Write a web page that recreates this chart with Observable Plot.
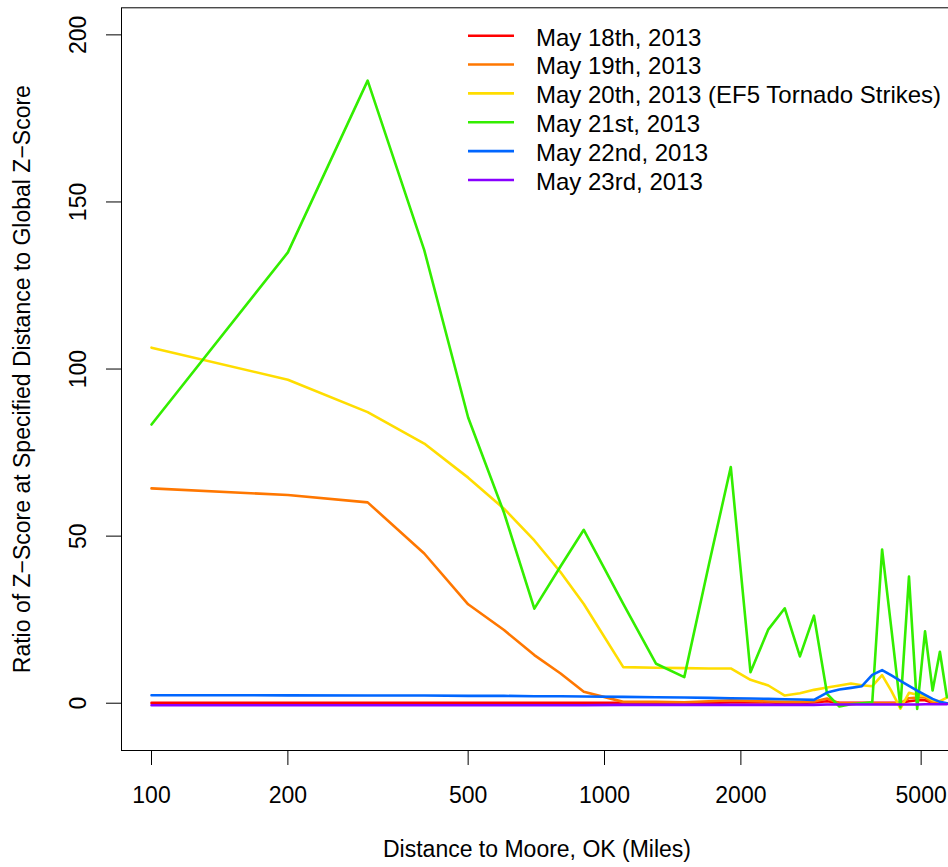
<!DOCTYPE html>
<html><head><meta charset="utf-8">
<script src="https://cdn.jsdelivr.net/npm/d3@7"></script>
<script src="https://cdn.jsdelivr.net/npm/@observablehq/plot@0.6"></script>
<style>
html,body{margin:0;padding:0;background:#fff;overflow:hidden;}
#chart{position:relative;width:948px;height:867px;overflow:hidden;}
#chart svg{max-width:none !important;display:block;}
</style></head><body><div id="chart"></div>
<script>
// Distance to Moore, OK (miles)
const distances = [100,200,300,400,500,600,700,800,900,1100,1300,1500,1700,1900,2100,2300,2500,2700,2900,3100,3300,3500,3700,3900,4100,4300,4500,4700,4900,5100,5300,5500,5700];
// Ratio of z-score per day
const may18 = [0.1,0.1,0.1,0.1,0.1,0.1,0.1,0.1,0.1, 0.1,0.1,0.1,0.1,0.2, 0.2,0.2,0.1,0.1,0.2, 0.6,0.1,0.1,0.1,0.1, 0.1,0.1,0.1, 0.6,0.9,0.9, 0.1,0,0];
const may19 = [64.3,62.3,60.1,44.8,29.6,21.9,14.4,8.9,3.4, 0.4,0.4,0.3,0.6,0.9, 0.7,0.5,0.4,0.4,0.5, 1.4,0,0,0,0, 0,0,0, 1.5,1.7,1.7, 0.2,0,0];
const may20 = [106.4,96.8,87.1,77.7,67.5,58.2,48.7,39.2,29.7, 10.8,10.6,10.5,10.4,10.4, 7.0,5.3,2.3,3.0,4.0, 4.7,5.3,5.9,5.4,5.1, 8.4,3.6,-1.6, 3.1,2.5,2.2, 0.9,0.6,1.7];
const may21 = [83.4,134.9,186.3,135.6,85.5,57,28.3,41,51.9, 29.7,11.8,7.8,41.5,70.7, 9.3,22.1,28.4,14.0,26.2, 2.8,-1.0,-0.3,0,0.3, 46,22,-1.2, 37.9,-1.7,21.5, 3.8,15.4,1.8];
const may22 = [2.4,2.35,2.3,2.3,2.2,2.2,2.1,2.1,2.0, 1.9,1.8,1.7,1.6,1.5, 1.4,1.3,1.2,1.1,1.0, 3.2,4.1,4.6,5.1,8.5, 9.9,8.3,6.7, 5.2,3.8,2.5, 1.3,0.4,0];
const may23 = [-0.6,-0.6,-0.6,-0.6,-0.6,-0.6,-0.6,-0.6,-0.6, -0.5,-0.5,-0.5,-0.5,-0.5, -0.5,-0.5,-0.5,-0.5,-0.5, -0.4,-0.4,-0.4,-0.4,-0.4, -0.4,-0.4,-0.4, -0.4,-0.4,-0.3, -0.3,-0.3,-0.3];

const seriesNames = ["May 18th, 2013","May 19th, 2013","May 20th, 2013 (EF5 Tornado Strikes)","May 21st, 2013","May 22nd, 2013","May 23rd, 2013"];
const seriesColors = ["#ff0000","#ff7700","#ffdd00","#33ee00","#0066ff","#8800ff"];
const xTicks = [100,200,500,1000,2000,5000];
const yTicks = [0,50,100,150,200];
const xTitle = "Distance to Moore, OK (Miles)";
const yTitle = "Ratio of Z\u2212Score at Specified Distance to Global Z\u2212Score";
const xDomain = [85.85, 5864];
const yDomain = [-14.15, 208.1];

const seriesValues = [may18, may19, may20, may21, may22, may23];
const rows = seriesValues.flatMap((vals, i) => vals.map((v, j) => ({distance: distances[j], ratio: v, series: seriesNames[i]})));

const font = "'Liberation Sans', Arial, Helvetica, sans-serif";
const plot = Plot.plot({
  width: 952, height: 867,
  marginLeft: 121, marginRight: 0, marginTop: 7.3, marginBottom: 117,
  style: {fontFamily: font, fontSize: "23px", background: "#fff", color: "#000"},
  x: {type: "log", domain: xDomain},
  y: {domain: yDomain},
  color: {domain: seriesNames, range: seriesColors},
  marks: [
    Plot.line(rows, {x: "distance", y: "ratio", z: "series", stroke: "series", strokeWidth: 2.6, clip: true}),
    Plot.frame({stroke: "#000", strokeWidth: 1}),
    Plot.axisX({ticks: xTicks, tickFormat: d => String(d), tickSize: 15, tickPadding: 20.7, fontSize: 23, label: null}),
    Plot.axisY({ticks: yTicks, tickSize: 15, tickFormat: () => "", label: null}),
    Plot.text(yTicks, {y: d => d, text: d => String(d), frameAnchor: "left", dx: -42.5, rotate: -90, textAnchor: "middle", lineAnchor: "middle", fontSize: 23}),
    Plot.text([yTitle], {text: d => d, frameAnchor: "left", dx: -99, rotate: -90, textAnchor: "middle", lineAnchor: "middle", fontSize: 23}),
    Plot.text([xTitle], {text: d => d, frameAnchor: "bottom", dy: 99.5, textAnchor: "middle", lineAnchor: "middle", fontSize: 23})
  ]
});
document.getElementById("chart").appendChild(plot);

// Legend (top, inside plot area)
const leg = d3.select(plot).append("g").attr("font-family", font).attr("font-size", 24).attr("text-anchor", "start");
seriesNames.forEach((name, i) => {
  const y = 35.7 + 28.85 * i;
  leg.append("line").attr("x1", 468).attr("x2", 514).attr("y1", y).attr("y2", y)
    .attr("stroke", seriesColors[i]).attr("stroke-width", 2.6);
  leg.append("text").attr("x", 536).attr("y", y + 9.8).attr("fill", "#000").attr("text-anchor", "start").text(name);
});
</script></body></html>
